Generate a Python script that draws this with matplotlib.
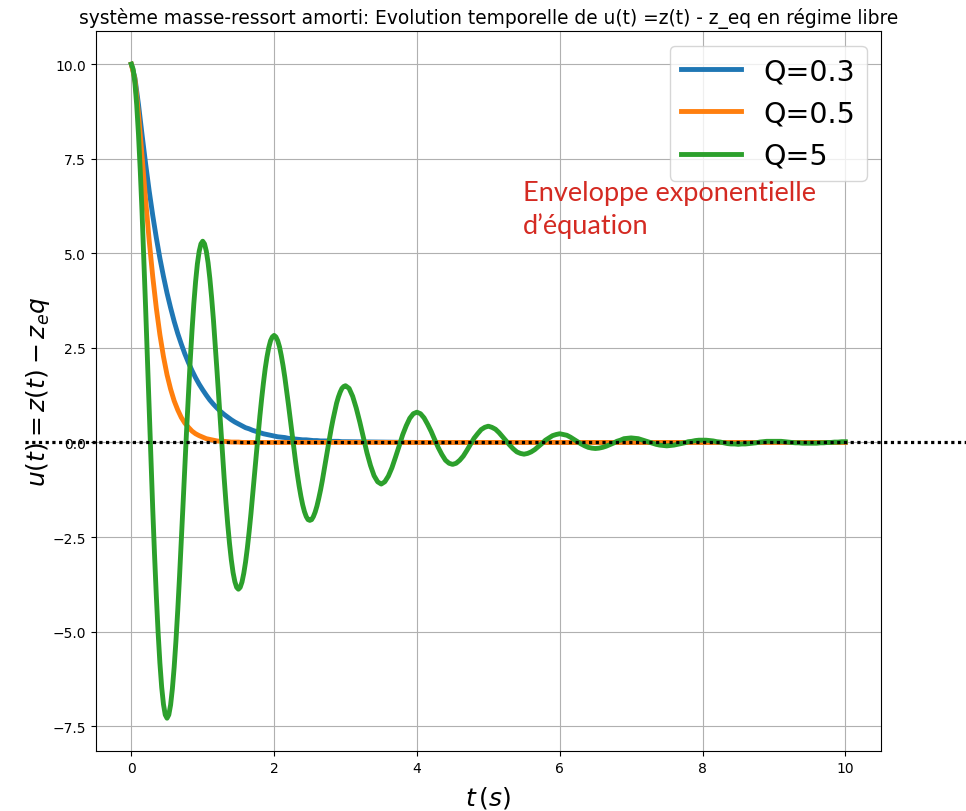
import numpy as np
import matplotlib
matplotlib.use('Agg')
import matplotlib.pyplot as plt
from matplotlib.lines import Line2D
from matplotlib.transforms import blended_transform_factory

# sampling instants (s)
t_early = np.linspace(0, 2.975, 120)      # dt = 0.025 s, first three periods
t_late = np.linspace(3, 10, 141)          # dt = 0.05 s afterwards
t_short = np.linspace(0, 3, 61)           # dt = 0.05 s, overdamped cases
t_tail = [3.5, 4, 5, 6, 7, 8, 9, 10]

# Q = 0.3 (aperiodic)
u_q03 = [10.00, 9.64, 8.94, 8.14, 7.37, 6.65, 6.00, 5.41, 4.87, 4.39,
         3.95, 3.56, 3.20, 2.88, 2.60, 2.34, 2.11, 1.90, 1.71, 1.54,
         1.39, 1.25, 1.12, 1.01, 0.91, 0.82, 0.74, 0.67, 0.60, 0.54,
         0.49, 0.44, 0.39, 0.36, 0.32, 0.29, 0.26, 0.23, 0.21, 0.19,
         0.17, 0.15, 0.14, 0.13, 0.11, 0.10, 0.09, 0.08, 0.07, 0.07,
         0.06, 0.05, 0.05, 0.04, 0.04, 0.04, 0.03, 0.03, 0.03, 0.02,
         0.02]
u_q03_tail = [0.01, 0.00, 0.00, 0.00, 0.00, 0.00, 0.00, 0.00]

# Q = 0.5 (critical)
u_q05 = [10.00, 9.60, 8.69, 7.57, 6.42, 5.34, 4.38, 3.55, 2.85, 2.27,
         1.79, 1.41, 1.10, 0.86, 0.66, 0.51, 0.40, 0.30, 0.23, 0.18,
         0.14, 0.10, 0.08, 0.06, 0.04, 0.03, 0.03, 0.02, 0.01, 0.01,
         0.01, 0.00, 0.00, 0.00, 0.00, 0.00, 0.00, 0.00, 0.00, 0.00,
         0.00, 0.00, 0.00, 0.00, 0.00, 0.00, 0.00, 0.00, 0.00, 0.00,
         0.00, 0.00, 0.00, 0.00, 0.00, 0.00, 0.00, 0.00, 0.00, 0.00,
         0.00]
u_q05_tail = [0.00, 0.00, 0.00, 0.00, 0.00, 0.00, 0.00, 0.00]

# Q = 5 (pseudo-periodic), t = 0 .. 2.975 s
u_q5_early = [
    10.00, 9.87, 9.51, 8.93, 8.15, 7.19, 6.09, 4.86, 3.56, 2.21,
    0.85, -0.49, -1.77, -2.97, -4.06, -5.02, -5.83, -6.47, -6.92, -7.20,
    -7.29, -7.20, -6.94, -6.51, -5.94, -5.24, -4.44, -3.55, -2.60, -1.61,
    -0.62, 0.36, 1.29, 2.17, 2.96, 3.66, 4.25, 4.72, 5.05, 5.25,
    5.32, 5.25, 5.06, 4.75, 4.33, 3.82, 3.24, 2.58, 1.89, 1.18,
    0.45, -0.26, -0.94, -1.58, -2.16, -2.67, -3.10, -3.44, -3.68, -3.83,
    -3.88, -3.83, -3.69, -3.46, -3.16, -2.79, -2.36, -1.89, -1.38, -0.86,
    -0.33, 0.19, 0.69, 1.15, 1.57, 1.95, 2.26, 2.51, 2.69, 2.79,
    2.83, 2.79, 2.69, 2.53, 2.30, 2.03, 1.72, 1.37, 1.01, 0.63,
    0.24, -0.14, -0.50, -0.84, -1.15, -1.42, -1.65, -1.83, -1.96, -2.04,
    -2.06, -2.04, -1.96, -1.84, -1.68, -1.48, -1.26, -1.01, -0.73, -0.46,
    -0.18, 0.10, 0.37, 0.61, 0.83, 1.04, 1.20, 1.33, 1.43, 1.48]

# Q = 5, t = 3 .. 10 s
u_q5_late = [
    1.50, 1.43, 1.22, 0.91, 0.54, 0.13, -0.27, -0.61, -0.88, -1.04,
    -1.10, -1.04, -0.89, -0.67, -0.39, -0.10, 0.20, 0.44, 0.64, 0.76,
    0.80, 0.76, 0.65, 0.48, 0.29, 0.07, -0.14, -0.32, -0.47, -0.55,
    -0.58, -0.55, -0.47, -0.36, -0.21, -0.05, 0.11, 0.23, 0.34, 0.40,
    0.43, 0.40, 0.35, 0.26, 0.15, 0.04, -0.07, -0.17, -0.25, -0.29,
    -0.31, -0.29, -0.25, -0.19, -0.11, -0.03, 0.06, 0.12, 0.18, 0.21,
    0.23, 0.21, 0.19, 0.14, 0.08, 0.02, -0.04, -0.09, -0.13, -0.15,
    -0.16, -0.15, -0.13, -0.10, -0.06, -0.02, 0.03, 0.06, 0.10, 0.11,
    0.12, 0.11, 0.10, 0.07, 0.04, 0.01, -0.02, -0.05, -0.07, -0.08,
    -0.09, -0.08, -0.07, -0.05, -0.03, -0.01, 0.02, 0.03, 0.05, 0.06,
    0.06, 0.06, 0.05, 0.04, 0.02, 0.01, -0.01, -0.03, -0.04, -0.04,
    -0.05, -0.04, -0.04, -0.03, -0.02, -0.01, 0.01, 0.02, 0.03, 0.03,
    0.03, 0.03, 0.03, 0.02, 0.01, 0.00, -0.01, -0.01, -0.02, -0.02,
    -0.02, -0.02, -0.02, -0.01, -0.01, 0.00, 0.00, 0.01, 0.01, 0.02,
    0.02]

labels = ['Q=0.3', 'Q=0.5', 'Q=5']

fig = plt.figure(figsize=(9.66, 8.12), dpi=100)
ax = fig.add_axes([0.099, 0.074, 0.813, 0.886])

t_ov = np.concatenate([t_short, t_tail])
ax.plot(t_ov, u_q03 + u_q03_tail, lw=3.5, label=labels[0])
ax.plot(t_ov, u_q05 + u_q05_tail, lw=3.5, label=labels[1])
ax.plot(np.concatenate([t_early, t_late]), u_q5_early + u_q5_late, lw=3.5, label=labels[2])

ax.grid(True)
ax.set_title('système masse-ressort amorti: Evolution temporelle de u(t) =z(t) - z_eq en régime libre',
             fontsize=13.4)
ax.set_xlabel(r'$t\,(s)$', fontsize=18, labelpad=7)
ax.set_ylabel(r'$u(t) = z(t) - z_eq$', fontsize=18, labelpad=0)
ax.legend(fontsize=20.5, loc='upper right', handlelength=2.1)

# dotted zero line drawn across the whole figure width
trans = blended_transform_factory(fig.transFigure, ax.transData)
fig.add_artist(Line2D([25 / 966, 1.0], [0, 0], transform=trans,
                      color='black', lw=2.3, linestyle=(0, (1, 1.1)), zorder=10))

fig.text(523 / 966, 1 - 234 / 812, 'Enveloppe exponentielle\nd\u2019équation',
         color='#d42a22', fontsize=19.5, family=['Lato', 'DejaVu Sans'],
         va='baseline', linespacing=1.35)

plt.savefig('out.png')
